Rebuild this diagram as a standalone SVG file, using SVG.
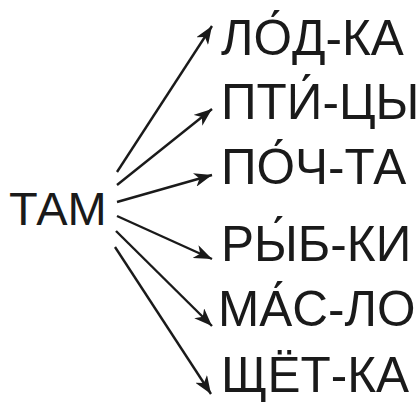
<svg xmlns="http://www.w3.org/2000/svg" width="419" height="420" viewBox="0 0 419 420">
<defs>
<style>
.t{font-family:"Liberation Sans",Arial,sans-serif;font-size:49.5px;fill:#1a1a1a}
.c line{stroke:#1a1a1a;stroke-width:2.4;marker-end:url(#ah)}
</style>
<marker id="ah" markerUnits="userSpaceOnUse" markerWidth="20" markerHeight="14" refX="18" refY="7" orient="auto">
<path d="M0,0 L18,7 L0,14 L5,7 Z" fill="#1a1a1a"/>
</marker>
</defs>
<rect width="419" height="420" fill="#fff"/>
<g id="tam"><text class="t" x="9" y="225" style="font-size:47px">ТАМ</text></g>
<g class="c" id="connectors">
<line x1="117" y1="172" x2="212" y2="26"/>
<line x1="117" y1="185" x2="212" y2="109"/>
<line x1="117" y1="202" x2="212" y2="175"/>
<line x1="117" y1="216" x2="212" y2="259"/>
<line x1="116" y1="231" x2="212" y2="326"/>
<line x1="115" y1="247" x2="211" y2="394"/>
</g>
<g id="w1"><text class="t" x="221" y="55">ЛО́Д-КА</text></g>
<g id="w2"><text class="t" x="221" y="119">ПТИ́-ЦЫ</text></g>
<g id="w3"><text class="t" x="221" y="184">ПО́Ч-ТА</text></g>
<g id="w4"><text class="t" x="221" y="261">РЫ́Б-КИ</text></g>
<g id="w5"><text class="t" x="218" y="326">МА́С-ЛО</text></g>
<g id="w6"><text class="t" x="221" y="392">ЩЁТ-КА</text></g>
</svg>
